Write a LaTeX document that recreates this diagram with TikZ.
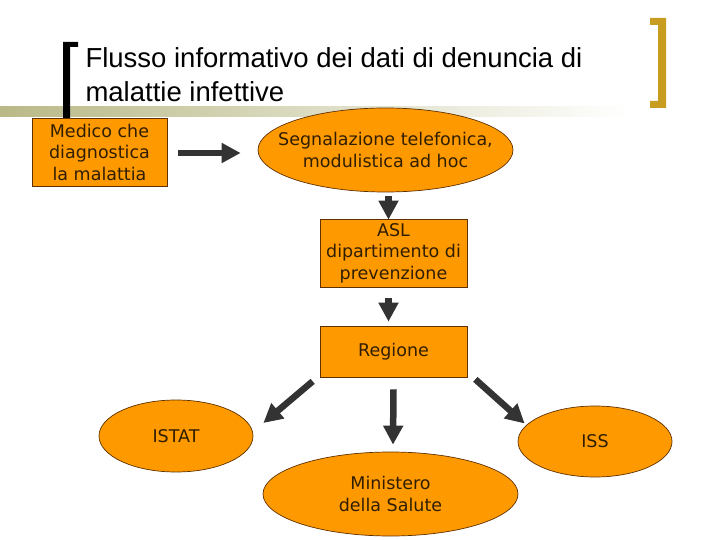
\documentclass[tikz,border=0pt]{standalone}
\usepackage{fontspec}
\setmainfont{DejaVu Sans}
\newfontfamily\titlefont{Liberation Sans}
\usepackage{xcolor}
\definecolor{figorange}{RGB}{255,153,0}
\definecolor{figbrown}{RGB}{96,48,0}
\definecolor{figtext}{RGB}{48,30,0}
\definecolor{figgray}{RGB}{51,51,51}
\definecolor{figolive}{RGB}{185,185,135}
\definecolor{figgold}{RGB}{200,156,30}
\usepackage{tikz}
\usetikzlibrary{shapes.geometric,arrows.meta,positioning,calc}

\begin{document}
\begin{tikzpicture}[
  x=1pt,y=-1pt,
  font=\fontsize{17.5}{21.5}\selectfont,
  box/.style={draw=figbrown,fill=figorange,text=figtext,line width=0.7pt,align=center,inner sep=0pt},
  oval/.style={box,ellipse},
  ar/.style={-{Triangle[length=19pt,width=19pt]},figgray,line width=6.5pt}
]
\useasboundingbox (0,0) rectangle (720,540);
% title band and brackets
\shade[left color=figolive,right color=white] (0,107) rectangle (630,117);
\fill[black] (63,42) rectangle (70,118) (63,42) rectangle (78,47);
\fill[figgold] (658,18) rectangle (666,108) (650,18) rectangle (666,25) (650,101) rectangle (666,108);
\node[anchor=base west,align=left,font=\titlefont\fontsize{27.5}{34}\selectfont] (title) at (82,102)
  {Flusso informativo dei dati di denuncia di\\malattie infettive};
% flow
\node[box,minimum width=135pt,minimum height=68pt] (med) at (99.5,152) {Medico che\\diagnostica\\la malattia};
\node[oval,inner xsep=-18pt,minimum width=255pt,minimum height=84pt] (seg) at (385.5,150) {Segnalazione telefonica,\\modulistica ad hoc};
\node[box,minimum width=147pt,minimum height=68pt] (asl) at (393.5,253) {ASL\\dipartimento di\\prevenzione};
\node[box,minimum width=147pt,minimum height=51pt] (reg) at (393.5,351.5) {Regione};
\node[oval,minimum width=154pt,minimum height=72pt] (istat) at (176,436) {ISTAT};
\node[oval,minimum width=154pt,minimum height=71pt] (iss) at (595,441.5) {ISS};
\node[oval,minimum width=255pt,minimum height=84pt] (min) at (390.5,494) {Ministero\\della Salute};
\draw[ar] ([xshift=11pt]med.east|-0,153) -- ([xshift=-17pt]seg.west|-0,153);
\draw[ar] ([shift={(3pt,-4pt)}]seg.south) -- ([shift={(-5pt,-1pt)}]asl.north);
\draw[ar] ([shift={(-5pt,-11pt)}]asl.south) -- ([shift={(-5pt,4pt)}]reg.north);
\draw[ar] ([yshift=-12pt]reg.south) -- ([shift={(2.5pt,7pt)}]min.north);
\draw[ar] ([shift={(-7pt,-4pt)}]reg.south west) -- ([shift={(10pt,13pt)}]istat.east);
\draw[ar] ([shift={(8pt,-2pt)}]reg.south east) -- ([shift={(7pt,18pt)}]iss.west);
\end{tikzpicture}
\end{document}
